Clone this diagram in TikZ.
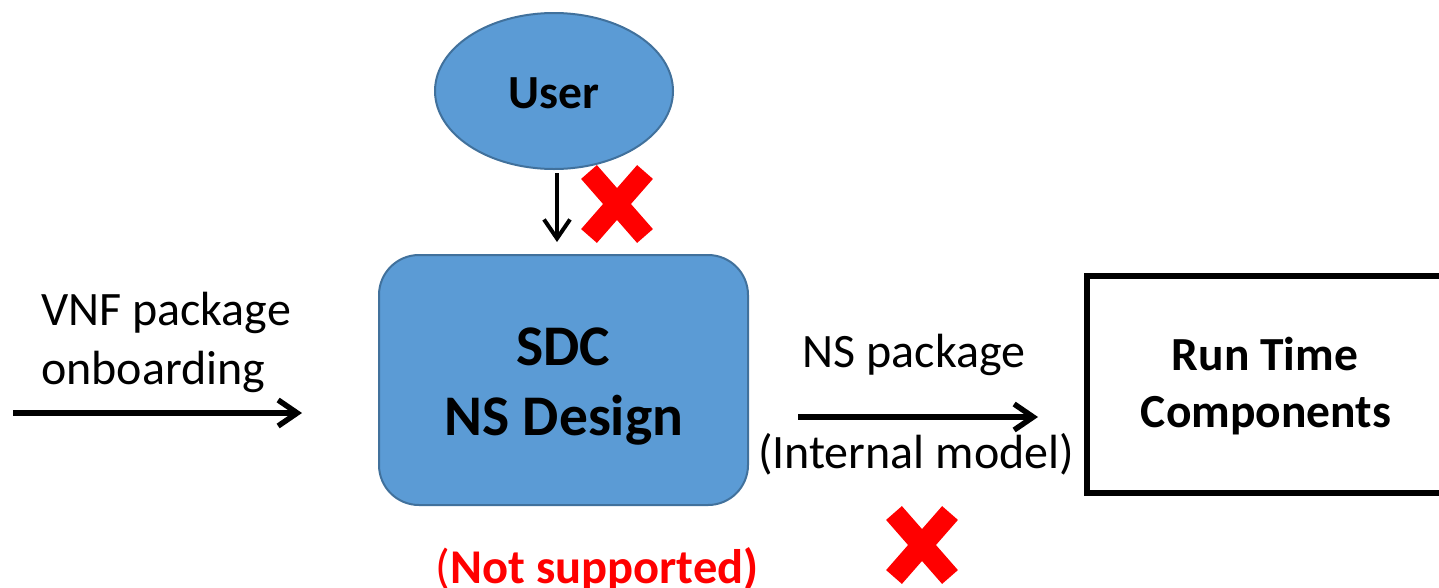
\documentclass[tikz,border=0pt]{standalone}
\usepackage{fontspec}
\setmainfont{Carlito}
\usetikzlibrary{positioning,shapes.geometric,arrows.meta}

\definecolor{sdcblue}{HTML}{5B9BD5}
\definecolor{sdcedge}{HTML}{41719C}
\definecolor{nored}{HTML}{FF0000}

\tikzset{
	txt/.style={inner sep=0pt, anchor=base, font=\fontsize{48}{57}\selectfont},
	txtbf/.style={inner sep=0pt, anchor=base, font=\fontsize{47.5}{56}\selectfont\bfseries},
	bigbf/.style={inner sep=0pt, anchor=base, font=\fontsize{57.5}{70}\selectfont\bfseries},
	flow/.style={line width=5.5pt, -{Straight Barb[length=19pt,width=26pt]}},
	xmark/.style={line width=21pt, nored},
}

\begin{document}
\begin{tikzpicture}[x=1pt,y=1pt,yscale=-1,xscale=1]
	\useasboundingbox (0,0) rectangle (1439,587);

	% User
	\node [ellipse, fill=sdcblue, draw=sdcedge, line width=2pt, minimum width=238, minimum height=156, inner sep=0pt] (user) at (554,91) {};
	\node [txtbf] (usertxt) at (554,108) {User};

	% SDC NS Design
	\node [rectangle, rounded corners=40pt, fill=sdcblue, draw=sdcedge, line width=2pt, minimum width=369, minimum height=250, inner sep=0pt] (sdc) at (563.5,380) {};
	\node [bigbf] (sdctxt) at (563,365) {SDC};
	\node [bigbf] (nsdesign) at (564,435) {NS Design};

	% Run Time Components
	\node [rectangle, draw, line width=6pt, minimum width=380, minimum height=217, inner sep=0pt, anchor=north west] (rtc) at (1084,273) {};
	\node [txtbf] (runtime) at (1265,370) {Run Time};
	\node [txtbf] (components) at (1266,427) {Components};

	% Text Node
	\node [txt, anchor=base west] (vnf) at (41,325) {VNF package};
	\node [txt, anchor=base west] (onboard) at (41,384) {onboarding};
	% Text Node
	\node [txt] (nspkg) at (914,367) {NS package};
	\node [txt] (internal) at (916,468) {(Internal model)};
	% Text Node
	\node [inner sep=0pt, anchor=base, text=nored, font=\fontsize{48.5}{58}\selectfont] (notsup) at (597,583) {(\textbf{Not supported)}};

	% Connection
	\coordinate (vnfin) at (13,413);
	\coordinate (vnfout) at (302,413);
	\draw [flow] (vnfin) -- (vnfout);
	% Connection
	\coordinate (userout) at (557,173);
	\coordinate (sdcin) at (557,242);
	\draw [flow, line width=4pt] (userout) -- (sdcin);
	% Connection
	\coordinate (nsin) at (798,417);
	\coordinate (nsout) at (1038,417);
	\draw [flow] (nsin) -- (nsout);

	% Crosses
	\draw [xmark] (589,172) -- (645,236) (645,172) -- (589,236);
	\draw [xmark] (894,513) -- (950,577) (950,513) -- (894,577);
\end{tikzpicture}
\end{document}
